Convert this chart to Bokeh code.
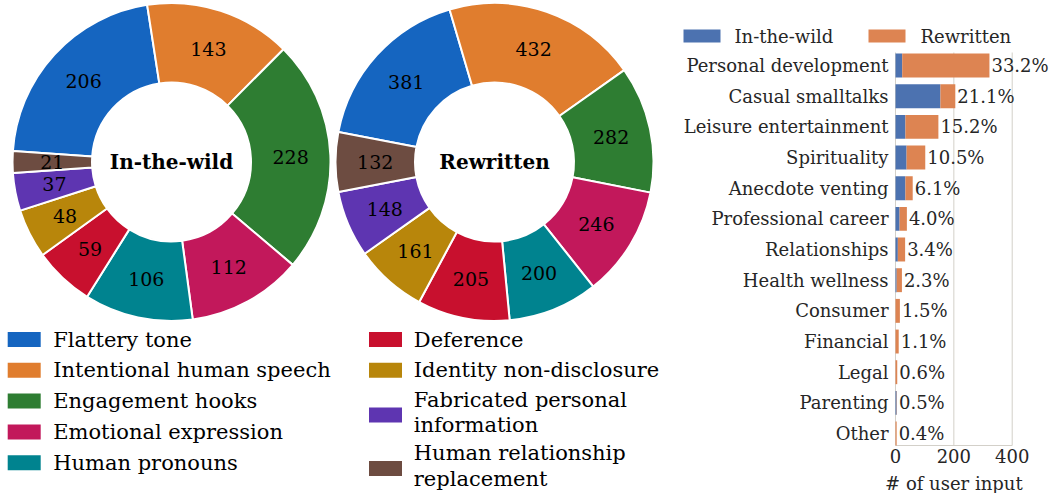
import numpy as np
from bokeh.plotting import figure
from bokeh.models import ColumnDataSource, Range1d
from bokeh.layouts import row
from bokeh.core.properties import value
from bokeh.embed import file_html
from bokeh.resources import INLINE

# ---------------- data ----------------
strategies = ["Flattery tone", "Intentional human speech", "Engagement hooks",
              "Emotional expression", "Human pronouns", "Deference",
              "Identity non-disclosure", "Fabricated personal\ninformation",
              "Human relationship\nreplacement"]
strategy_colors = ["#1565C0", "#E07D2E", "#2E7D32", "#C2185B", "#00838F",
                   "#C8102E", "#B8860B", "#5E35B1", "#6D4C41"]
wild_counts = [206, 143, 228, 112, 106, 59, 48, 37, 21]
rewritten_counts = [381, 432, 282, 246, 200, 205, 161, 148, 132]
donut_titles = ["In-the-wild", "Rewritten"]

topics = ["Personal development", "Casual smalltalks", "Leisure entertainment",
          "Spirituality", "Anecdote venting", "Professional career",
          "Relationships", "Health wellness", "Consumer", "Financial",
          "Legal", "Parenting", "Other"]
topic_wild = [23, 154, 34, 38, 34, 14, 8, 4, 0, 0, 0, 4, 0]
topic_rewritten = [299, 51, 113, 64, 25, 25, 25, 18, 15, 11, 6, 1, 4]
topic_pct = ["33.2%", "21.1%", "15.2%", "10.5%", "6.1%", "4.0%", "3.4%",
             "2.3%", "1.5%", "1.1%", "0.6%", "0.5%", "0.4%"]
bar_series = ["In-the-wild", "Rewritten"]
bar_colors = ["#4C72B0", "#DD8452"]
x_ticks = [0, 200, 400]
x_label = "# of user input"

FONT = value("DejaVu Serif")
TXT = "#262626"
GRID = "#d3d0c9"
H = 493

# ---------------- donuts + legend (1 data unit = 1 px) ----------------
PW = 670
pie = figure(width=PW, height=H, x_range=Range1d(0, PW), y_range=Range1d(-H, 0),
             output_backend="svg", toolbar_location=None, min_border=0,
             outline_line_color=None, x_axis_location=None, y_axis_location=None)
pie.grid.visible = False

R_OUT, R_IN = 159, 79.5
R_MID = (R_OUT + R_IN) / 2


def donut(counts, cx, cy, title):
    vals = np.array(counts, dtype=float)
    frac = vals / vals.sum()
    start = np.pi - np.pi * frac[-1]
    cum = np.concatenate([[0.0], np.cumsum(frac)])
    a_end = start - 2 * np.pi * cum[:-1]
    a_start = start - 2 * np.pi * cum[1:]
    mid = (a_start + a_end) / 2
    src = ColumnDataSource(dict(start=a_start, end=a_end, color=strategy_colors,
                                lx=cx + R_MID * np.cos(mid),
                                ly=cy + R_MID * np.sin(mid),
                                label=[str(c) for c in counts]))
    pie.annular_wedge(x=cx, y=cy, inner_radius=R_IN, outer_radius=R_OUT,
                      start_angle="start", end_angle="end", direction="anticlock",
                      fill_color="color", line_color="white", line_width=2,
                      source=src)
    pie.text(x="lx", y="ly", text="label", source=src, text_font=FONT,
             text_font_size="19px", text_color="black", text_align="center",
             text_baseline="middle")
    pie.text(x=[cx], y=[cy], text=[title], text_font=FONT,
             text_font_style="bold", text_font_size="20px", text_color="black",
             text_align="center", text_baseline="middle")


donut(wild_counts, 171, -161.5, donut_titles[0])
donut(rewritten_counts, 494, -161.5, donut_titles[1])

# legend for strategies (two columns)
col_split = 5
sw_x = [23.7, 385.0]
tx_x = [52.7, 413.3]
lx, ly, tx, ty, cols = [], [], [], [], []
for c, items in enumerate([range(0, col_split), range(col_split, len(strategies))]):
    top = 339 - 15.4
    for i in items:
        lines = strategies[i].count("\n") + 1
        h = 8 + 22.8 * lines
        yc = top + h / 2
        top += h
        lx.append(sw_x[c]); ly.append(-(yc + 2.5 * (lines - 1)))
        tx.append(tx_x[c]); ty.append(-yc)
        cols.append(strategy_colors[i])
pie.rect(x=lx, y=ly, width=33, height=15, fill_color=cols, line_color=None)
pie.text(x=tx, y=ty, text=strategies, text_font=FONT, text_font_size="21px",
         text_color="black", text_align="left", text_baseline="middle",
         text_line_height=1.08)

# ---------------- topic bar chart ----------------
BX0 = PW            # page x where the bar figure starts
BW = 380
X_ZERO = 895.0      # page x of count 0
PXU = 116.7 / 400   # pixels per count
ROW0 = 65.0         # page y of first category
ROW_H = 30.67       # pixels per category
n = len(topics)


def px2x(px):
    return (px - X_ZERO) / PXU


def py2y(py):
    return (n - 1) - (py - ROW0) / ROW_H


ypos = [n - 1 - i for i in range(n)]
totals = [w + r for w, r in zip(topic_wild, topic_rewritten)]
bsrc = ColumnDataSource(dict(y=ypos, wild=topic_wild, rewritten=topic_rewritten,
                             total=totals, pct=topic_pct, name=topics))

bar = figure(width=BW, height=H, x_range=Range1d(px2x(BX0), px2x(BX0 + BW)),
             y_range=Range1d(py2y(H), py2y(0)), output_backend="svg",
             toolbar_location=None, min_border=0, outline_line_color=None,
             x_axis_location=None, y_axis_location=None)
bar.grid.visible = False

y_bot, y_top = py2y(445), py2y(52)
bar.segment(x0=x_ticks, y0=y_bot, x1=x_ticks, y1=y_top, line_color=GRID,
            line_width=1)
bar.segment(x0=[x_ticks[0]], y0=[y_bot], x1=[x_ticks[-1]], y1=[y_bot],
            line_color=GRID, line_width=1.2)

bar.hbar_stack(["wild", "rewritten"], y="y", height=0.78, color=bar_colors,
               line_color=None, source=bsrc)

bar.text(x="total", y="y", text="pct", source=bsrc, x_offset=2,
         text_font=FONT, text_font_size="18px", text_color=TXT,
         text_align="left", text_baseline="middle")
bar.text(x=0, y="y", text="name", source=bsrc, x_offset=-7,
         text_font=FONT, text_font_size="18px", text_color=TXT,
         text_align="right", text_baseline="middle")
bar.text(x=x_ticks, y=py2y(455), text=[str(t) for t in x_ticks],
         text_font=FONT, text_font_size="18px", text_color=TXT,
         text_align="center", text_baseline="middle")
bar.text(x=[(x_ticks[0] + x_ticks[-1]) / 2], y=py2y(483), text=[x_label],
         text_font=FONT, text_font_size="18px", text_color=TXT,
         text_align="center", text_baseline="middle")

# legend of the bar chart
leg_y = py2y(35.5)
bar.rect(x=[px2x(701.5), px2x(886.5)], y=leg_y, width=37, height=13,
         width_units="screen", height_units="screen", fill_color=bar_colors,
         line_color=None)
bar.text(x=[px2x(734), px2x(920)], y=leg_y, text=bar_series, text_font=FONT,
         text_font_size="18px", text_color=TXT, text_align="left",
         text_baseline="middle")

layout = row(pie, bar)
open("out.html", "w").write(file_html(layout, INLINE))
